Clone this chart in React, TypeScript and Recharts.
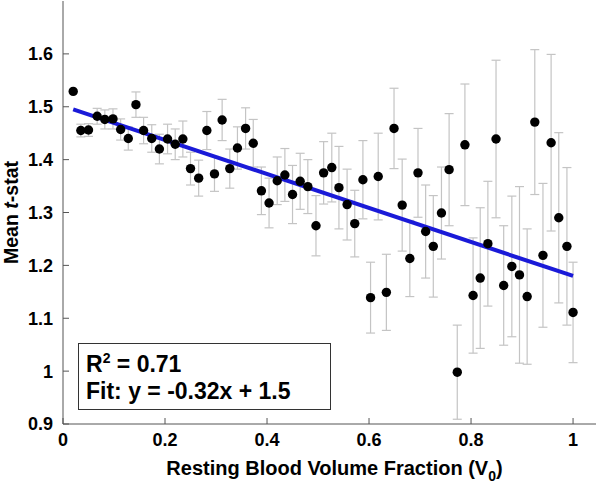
import { ComposedChart, Scatter, Line, XAxis, YAxis, ErrorBar } from "recharts";

// resting blood volume fraction (x), mean t-stat and its error
const xs = [
  0.02, 0.035, 0.05, 0.067, 0.082, 0.098, 0.113, 0.128, 0.143, 0.158,
  0.174, 0.189, 0.205, 0.22, 0.235, 0.25, 0.266, 0.282, 0.297, 0.312,
  0.327, 0.342, 0.358, 0.373, 0.389, 0.404, 0.42, 0.435, 0.45, 0.465,
  0.48, 0.496, 0.511, 0.527, 0.541, 0.557, 0.572, 0.588, 0.603, 0.618,
  0.634, 0.649, 0.665, 0.68, 0.696, 0.711, 0.726, 0.742, 0.757, 0.773,
  0.788, 0.804, 0.818, 0.833, 0.849, 0.864, 0.88, 0.895, 0.91, 0.925,
  0.941, 0.957, 0.972, 0.988, 1.0,
];
const means = [
  1.529, 1.455, 1.456, 1.482, 1.476, 1.477, 1.457, 1.44, 1.504, 1.455,
  1.44, 1.42, 1.439, 1.429, 1.439, 1.383, 1.365, 1.455, 1.373, 1.475,
  1.383, 1.422, 1.459, 1.431, 1.341, 1.318, 1.36, 1.371, 1.334, 1.359,
  1.349, 1.275, 1.375, 1.385, 1.347, 1.315, 1.279, 1.362, 1.139, 1.368,
  1.149, 1.459, 1.314, 1.213, 1.375, 1.264, 1.236, 1.299, 1.381, 0.998,
  1.428, 1.143, 1.176, 1.241, 1.439, 1.162, 1.198, 1.182, 1.141, 1.471,
  1.219, 1.432, 1.29, 1.236, 1.111,
];
const errs = [
  0, 0.012, 0.012, 0.015, 0.018, 0.019, 0.02, 0.022, 0.024, 0.025,
  0.026, 0.028, 0.028, 0.029, 0.034, 0.031, 0.034, 0.036, 0.033, 0.039,
  0.037, 0.04, 0.039, 0.045, 0.045, 0.047, 0.045, 0.05, 0.055, 0.053,
  0.051, 0.057, 0.059, 0.065, 0.078, 0.067, 0.063, 0.074, 0.067, 0.082,
  0.072, 0.076, 0.087, 0.072, 0.084, 0.088, 0.096, 0.087, 0.106, 0.089,
  0.115, 0.109, 0.133, 0.118, 0.149, 0.113, 0.133, 0.167, 0.128, 0.137,
  0.136, 0.167, 0.161, 0.149, 0.095,
];

// fitted line endpoints
const fitX = [0.02, 1.0];
const fitY = [1.495, 1.18];

const xTicks = [0, 0.2, 0.4, 0.6, 0.8, 1];
const yTicks = [0.9, 1, 1.1, 1.2, 1.3, 1.4, 1.5, 1.6];

const points = xs.map((x, i) => ({ x, y: means[i], err: errs[i] }));
const fitLine = fitX.map((x, i) => ({ x, y: fitY[i] }));

const FONT = "'Liberation Sans', Arial, Helvetica, sans-serif";
const AXIS = "#555";
const tickStyle = { fontSize: 18, fontWeight: "bold", fill: "#000", fontFamily: FONT };

const Dot = (p: any) => <circle cx={p.cx} cy={p.cy} r={4.7} fill="#000" />;
const NoDot = () => <g />;

const YTitle = (p: any) => {
  const vb = p.viewBox || { y: 0, height: 0 };
  const cy = vb.y + vb.height / 2;
  return (
    <text
      transform={`translate(18,${cy}) rotate(-90)`}
      textAnchor="middle"
      fontSize={19.5}
      fontWeight="bold"
      fontFamily={FONT}
      fill="#000"
    >
      {"Mean "}
      <tspan fontStyle="italic">t</tspan>
      {"-stat"}
    </text>
  );
};

const XTitle = (p: any) => {
  const vb = p.viewBox || { x: 0, width: 0 };
  const cx = vb.x + vb.width / 2 + 5;
  return (
    <text x={cx} y={475} textAnchor="middle" fontSize={20} fontWeight="bold" fontFamily={FONT} fill="#000">
      {"Resting Blood Volume Fraction (V"}
      <tspan fontSize={14} dy={6}>0</tspan>
      <tspan dy={-6}>)</tspan>
    </text>
  );
};

export default function App() {
  return (
    <div style={{ position: "absolute", left: 0, top: 0, width: 600, height: 484, background: "#fff" }}>
      <ComposedChart width={600} height={484} margin={{ top: 1, right: 4, left: 0, bottom: 0 }}>
        <XAxis
          dataKey="x"
          type="number"
          domain={[0, 1.045]}
          ticks={xTicks}
          interval={0}
          height={60}
          tickSize={-6}
          tickMargin={15}
          tick={tickStyle}
          stroke={AXIS}
          label={{ content: XTitle }}
          allowDataOverflow
        />
        <XAxis
          xAxisId="top"
          orientation="top"
          type="number"
          domain={[0, 1.045]}
          ticks={xTicks}
          interval={0}
          height={0}
          tickSize={-6}
          tick={false}
          stroke={AXIS}
          allowDataOverflow
        />
        <YAxis
          dataKey="y"
          type="number"
          domain={[0.9, 1.7]}
          ticks={yTicks}
          interval={0}
          width={63}
          tickSize={-6}
          tickMargin={16}
          tick={tickStyle}
          stroke={AXIS}
          label={{ content: YTitle }}
          allowDataOverflow
        />
        <YAxis
          yAxisId="right"
          orientation="right"
          type="number"
          domain={[0.9, 1.7]}
          ticks={yTicks}
          interval={0}
          width={0}
          tickSize={-6}
          tick={false}
          stroke={AXIS}
          allowDataOverflow
        />
        <Scatter data={points} shape={NoDot} isAnimationActive={false}>
          <ErrorBar
            dataKey="err"
            direction="y"
            width={4.5}
            stroke="#c4c4c4"
            strokeWidth={1.2}
            isAnimationActive={false}
          />
        </Scatter>
        <Line
          data={fitLine}
          dataKey="y"
          stroke="#1a1ad8"
          strokeWidth={4}
          dot={false}
          activeDot={false}
          isAnimationActive={false}
        />
        <Scatter data={points} shape={Dot} isAnimationActive={false} />
      </ComposedChart>
      <svg
        width={600}
        height={484}
        style={{ position: "absolute", left: 0, top: 0, pointerEvents: "none" }}
      >
        <rect x={78.5} y={343.5} width={252} height={66} fill="#fff" stroke="#333" strokeWidth={1} />
        <text x={86} y={372} fontSize={23} fontWeight="bold" fontFamily={FONT} fill="#000">
          R
          <tspan fontSize={14} dy={-9}>2</tspan>
          <tspan dy={9}>{" = 0.71"}</tspan>
        </text>
        <text x={86} y={399} fontSize={23} fontWeight="bold" fontFamily={FONT} fill="#000">
          {"Fit: y = -0.32x + 1.5"}
        </text>
      </svg>
    </div>
  );
}
